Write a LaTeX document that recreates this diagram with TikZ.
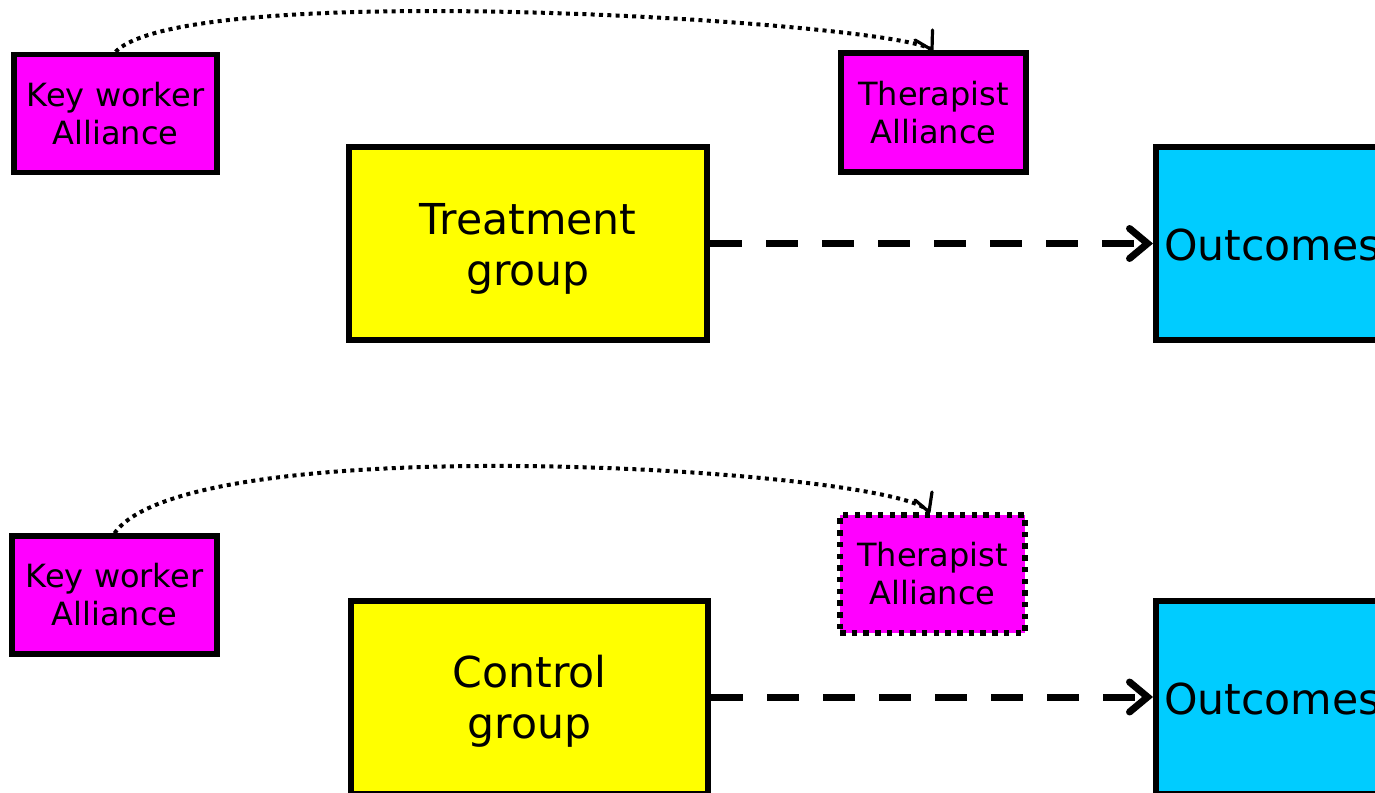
\documentclass[tikz,border=0pt]{standalone}
\usepackage{fontspec}
\setmainfont{DejaVu Sans}
\usetikzlibrary{arrows.meta}
\definecolor{mag}{RGB}{255,0,255}
\definecolor{yel}{RGB}{255,255,0}
\definecolor{cyn}{RGB}{0,204,255}
\newcommand{\topstrut}{\rule{0pt}{41pt}}
\tikzset{
  smallbox/.style={draw=black, line width=5.5pt, fill=mag, align=center, inner sep=0pt,
    font=\fontsize{32}{38}\selectfont},
  bigbox/.style={draw=black, line width=6pt, fill=yel, align=center, inner sep=0pt,
    font=\fontsize{42.6}{51}\selectfont},
  outbox/.style={draw=black, line width=6pt, fill=cyn, inner sep=0pt},
  outtext/.style={anchor=west, inner sep=0pt, font=\fontsize{42.6}{52}\selectfont},
  dashedarrow/.style={line width=7pt, dash pattern=on 32pt off 24pt, line cap=butt,
    -{Straight Barb[length=18pt, width=30pt, line width=7pt, line cap=round]}},
  dottedcurve/.style={line width=4pt, dash pattern=on 4pt off 4.3pt},
  barb/.style={line width=3.2pt, line cap=round, line join=round},
  dottedborder/.style={dash pattern=on 5.5pt off 6.2pt}
}
\begin{document}
\begin{tikzpicture}[x=1pt,y=-1pt]
\useasboundingbox (0,0) rectangle (1375,792);
% ---------- top ----------
\node[smallbox, minimum width=203pt, minimum height=118pt] (kw1) at (115.5,113.5) {Key worker\\Alliance};
\node[smallbox, minimum width=185pt, minimum height=119pt] (th1) at (933.5,112.5) {Therapist\\Alliance};
\node[bigbox, minimum width=358pt, minimum height=193pt] (tr) at (528,243.5) {\topstrut Treatment\\group};
\node[outbox, minimum width=260pt, minimum height=193pt] (out1) at (1286,243.5) {};
\node[outtext] (out1t) at (1164,245) {Outcomes};
\draw[dashedarrow] (tr.east) -- (tr.east -| out1.west);
\coordinate (tip1) at (932,50);
\draw[dottedcurve] (kw1.north) .. controls (190,-23) and (905,23) .. (tip1);
\draw[barb] (tip1) ++(0.5,-20) -- (tip1) -- ++(-17,-10);
% ---------- bottom ----------
\node[smallbox, minimum width=205pt, minimum height=118pt] (kw2) at (114.5,595) {Key worker\\Alliance};
\node[smallbox, dottedborder, minimum width=185pt, minimum height=118pt] (th2) at (932.5,574) {Therapist\\Alliance};
\node[bigbox, minimum width=357pt, minimum height=193pt] (cg) at (529.5,697) {\topstrut Control\\group};
\node[outbox, minimum width=260pt, minimum height=193pt] (out2) at (1286,697) {};
\node[outtext] (out2t) at (1164,699) {Outcomes};
\draw[dashedarrow] (cg.east) -- (cg.east -| out2.west);
\coordinate (tip2) at (929,512);
\draw[dottedcurve] (kw2.north) .. controls (190,425) and (905,470) .. (tip2);
\draw[barb] (tip2) ++(3,-20) -- (tip2) -- ++(-14,-12);
\end{tikzpicture}
\end{document}
